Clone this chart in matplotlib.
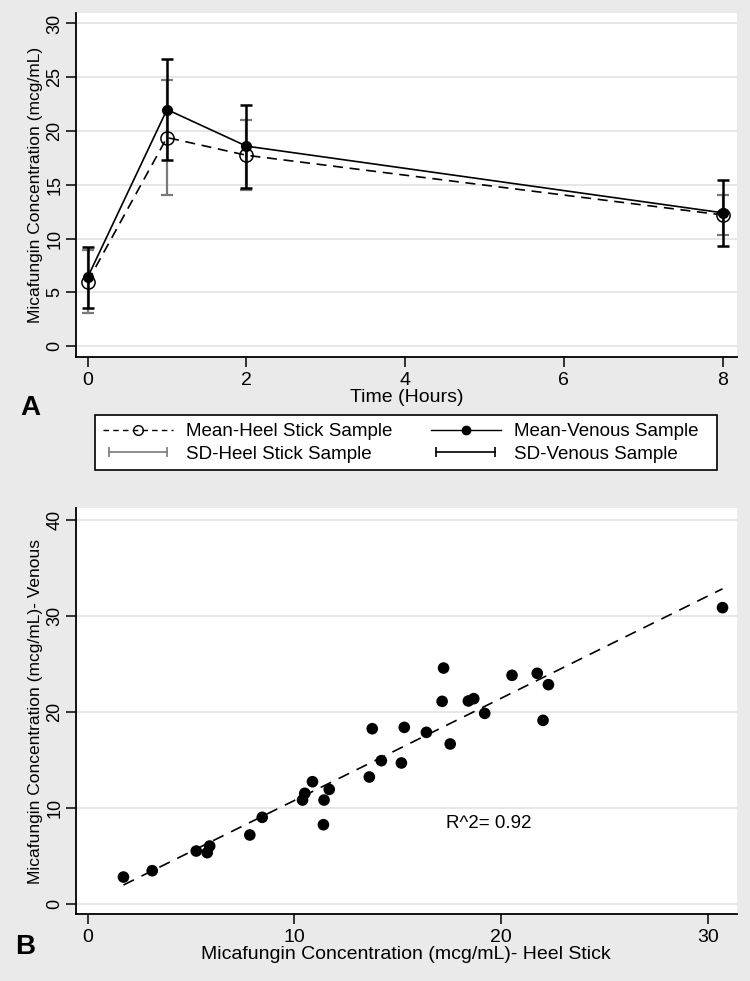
import matplotlib
matplotlib.use("Agg")
import matplotlib.pyplot as plt
from matplotlib.lines import Line2D
from matplotlib.patches import Rectangle
from matplotlib.legend_handler import HandlerLine2D

# panel A: mean +/- SD over time
times = [0, 1, 2, 8]
heel_mean = [6.0, 19.4, 17.75, 12.2]
heel_sd = [2.9, 5.35, 3.25, 1.85]
venous_mean = [6.4, 22.0, 18.6, 12.4]
venous_sd = [2.85, 4.7, 3.85, 3.05]

# panel B: paired samples
heel_x = [1.73, 3.12, 5.25, 5.78, 5.90, 7.84, 8.44, 10.39, 10.50, 10.87,
          11.43, 11.40, 11.68, 13.62, 13.76, 14.20, 15.17, 15.31, 16.38, 17.14,
          17.21, 17.53, 18.41, 18.67, 19.20, 20.52, 21.74, 22.02, 22.28, 30.70]
venous_y = [2.81, 3.47, 5.52, 5.35, 6.04, 7.19, 9.03, 10.83, 11.53, 12.74,
            10.83, 8.26, 11.94, 13.23, 18.26, 14.93, 14.69, 18.40, 17.88, 21.11,
            24.58, 16.67, 21.15, 21.39, 19.86, 23.82, 24.03, 19.13, 22.85, 30.87]
fit_slope = 1.065
fit_intercept = 0.14
r2_label = "R^2= 0.92"

BG = "#eaeaea"
GRID = "#e3e3e3"
SD_GREY = "#7a7a7a"
NARROW = ["Liberation Sans Narrow", "Liberation Sans", "DejaVu Sans"]
REG = ["Liberation Sans", "DejaVu Sans"]

fig = plt.figure(figsize=(7.5, 9.81), dpi=100, facecolor=BG)
W, H = 750.0, 981.0


def px_axes(left, top, right, bottom):
    return fig.add_axes([left / W, 1 - bottom / H, (right - left) / W, (bottom - top) / H])


def style(ax, yticks):
    ax.set_facecolor("white")
    for side in ("top", "right"):
        ax.spines[side].set_visible(False)
    for side in ("left", "bottom"):
        ax.spines[side].set_linewidth(1.3)
    ax.set_yticks(yticks)
    ax.yaxis.grid(True, color=GRID, linewidth=1.2)
    ax.set_axisbelow(True)
    ax.tick_params(direction="out", length=7, width=1.1)
    ax.tick_params(axis="x", pad=4)
    ax.tick_params(axis="y", pad=2)
    for lab in ax.get_yticklabels():
        lab.set_rotation(90)
        lab.set_va("center")
        lab.set_family(REG)
        lab.set_fontsize(13)
    for lab in ax.get_xticklabels():
        lab.set_family(NARROW)
        lab.set_fontsize(14)


# ---- panel A
axA = px_axes(75.7, 12.7, 737, 357)
axA.errorbar(times, heel_mean, yerr=heel_sd, fmt="none", ecolor=SD_GREY,
             elinewidth=1.6, capsize=4, capthick=1.6, zorder=2)
axA.errorbar(times, venous_mean, yerr=venous_sd, fmt="none", ecolor="black",
             elinewidth=1.8, capsize=4, capthick=1.8, zorder=2)
axA.plot(times, heel_mean, color="black", linestyle=(0, (6, 4)), linewidth=1.2,
         marker="o", markersize=9.5, markerfacecolor="none", markeredgecolor="black",
         markeredgewidth=1.1, zorder=3)
axA.plot(times, venous_mean, color="black", linestyle="-", linewidth=1.2,
         marker="o", markersize=7, markerfacecolor="black", markeredgecolor="black", zorder=4)
axA.set_xlim(-0.15, 8.18)
axA.set_ylim(-1.0, 31.0)
axA.set_xticks([0, 2, 4, 6, 8])
style(axA, [0, 5, 10, 15, 20, 25, 30])
axA.set_xlabel("Time (Hours)", family=NARROW, fontsize=14, labelpad=0)
axA.set_ylabel("Micafungin Concentration (mcg/mL)", family=REG, fontsize=12.5, labelpad=2)
fig.text(30 / W, 1 - 408 / H, "A", family=NARROW, fontsize=20, fontweight="bold",
         ha="center", va="center")

# legend box drawn separately, entries filled column by column
fig.add_artist(Rectangle((95 / W, 1 - 470 / H), 622 / W, 55 / H, transform=fig.transFigure,
                         facecolor="white", edgecolor="black", linewidth=1.2, zorder=4))
h_heel = Line2D([], [], color="black", linestyle=(0, (4, 3)), linewidth=1.0,
                marker="o", markersize=7, markerfacecolor="none", markeredgecolor="black")
h_ven = Line2D([], [], color="black", linestyle="-", linewidth=1.0,
               marker="o", markersize=6, markerfacecolor="black")
h_sd_heel = Line2D([], [], color=SD_GREY, linewidth=1.2, marker="|", markersize=7,
                   markeredgewidth=1.2)
h_sd_ven = Line2D([], [], color="black", linewidth=1.2, marker="|", markersize=7,
                  markeredgewidth=1.2)
leg = fig.legend([h_heel, h_sd_heel, h_ven, h_sd_ven],
                 ["Mean-Heel Stick Sample", "SD-Heel Stick Sample",
                  "Mean-Venous Sample", "SD-Venous Sample"],
                 ncol=2, loc="upper left", bbox_to_anchor=(95 / W, 1 - 415 / H),
                 frameon=False, handlelength=3.73, handletextpad=0.7,
                 labelspacing=0.3, borderpad=0.43, borderaxespad=0.0,
                 columnspacing=2.03,
                 prop={"family": REG, "size": 13.5},
                 handler_map={h_sd_heel: HandlerLine2D(numpoints=2),
                              h_sd_ven: HandlerLine2D(numpoints=2),
                              h_heel: HandlerLine2D(numpoints=1),
                              h_ven: HandlerLine2D(numpoints=1)})
leg.set_zorder(5)

# ---- panel B
axB = px_axes(75.7, 508, 737, 914)
axB.scatter(heel_x, venous_y, s=70, color="black", edgecolors="none", zorder=3)
x0, x1 = min(heel_x), max(heel_x)
axB.plot([x0, x1], [fit_intercept + fit_slope * x0, fit_intercept + fit_slope * x1],
         color="black", linestyle=(0, (7, 5)), linewidth=1.2, zorder=2)
axB.text(17.35, 8.4, r2_label, family=REG, fontsize=13.5, ha="left", va="center")
axB.set_xlim(-0.58, 31.4)
axB.set_ylim(-1.04, 41.25)
axB.set_xticks([0, 10, 20, 30])
style(axB, [0, 10, 20, 30, 40])
axB.set_xlabel("Micafungin Concentration (mcg/mL)- Heel Stick", family=NARROW,
               fontsize=14, labelpad=0)
axB.set_ylabel("Micafungin Concentration (mcg/mL)- Venous", family=REG,
               fontsize=12.5, labelpad=2)
fig.text(25 / W, 1 - 947 / H, "B", family=NARROW, fontsize=20, fontweight="bold",
         ha="center", va="center")

fig.savefig("out.png", dpi=100, facecolor=BG)
